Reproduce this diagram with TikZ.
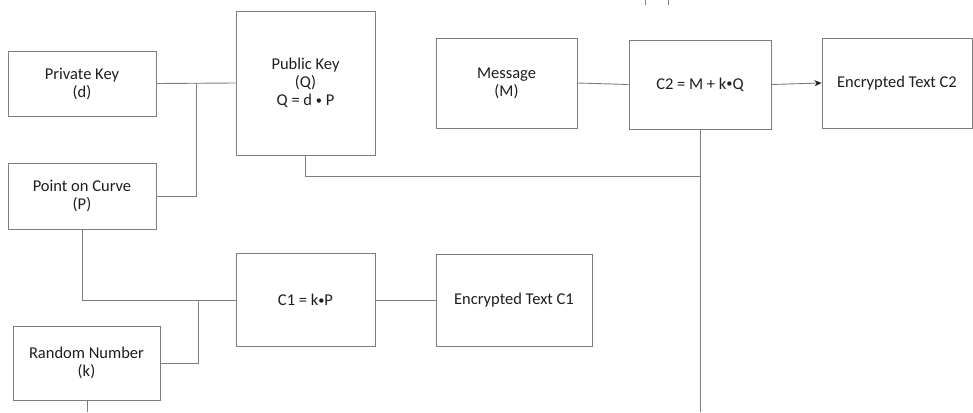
\documentclass[tikz,border=0pt]{standalone}
\usepackage{fontspec}
\setmainfont{Carlito}
\usetikzlibrary{arrows.meta}
\definecolor{edgegray}{RGB}{125,125,125}
\definecolor{txt}{RGB}{30,30,30}
\newcommand{\mdot}{{\raisebox{0.09em}{\scalebox{0.75}{•}}}}
\begin{document}
\begin{tikzpicture}[x=1pt,y=-1pt,
  box/.style={draw=edgegray,line width=0.9pt,fill=white,align=center,inner sep=0pt,
    text=txt,font=\fontsize{16.5}{18}\selectfont},
  conn/.style={draw=edgegray,line width=0.9pt},
  arr/.style={conn,-{Stealth[length=7pt,width=6pt,color=txt]}}]
\useasboundingbox (0,0) rectangle (973,412);
\node[box,minimum width=148pt,minimum height=65pt] (priv) at (82,83.5) {Private Key\\(d)};
\node[box,minimum width=148pt,minimum height=66pt] (poc) at (82,196) {Point on Curve\\(P)};
\node[box,minimum width=139pt,minimum height=144pt] (pub) at (305.5,83) {Public Key\\(Q)\\Q = d \mdot{} P};
\node[box,minimum width=141pt,minimum height=90pt] (msg) at (506.5,83) {Message\\(M)};
\node[box,minimum width=142pt,minimum height=89pt] (c2) at (700,84.5) {C2 = M + k\mdot Q};
\node[box,minimum width=150pt,minimum height=90pt] (enc2) at (897,83) {Encrypted Text C2};
\node[box,minimum width=139pt,minimum height=93pt] (c1) at (305.5,300) {C1 = k\mdot P};
\node[box,minimum width=156pt,minimum height=92pt] (enc1) at (514,300) {Encrypted Text C1};
\node[box,minimum width=147pt,minimum height=74pt] (rnd) at (86.5,363) {Random Number\\(k)};
\coordinate (j1) at (196,83);
\coordinate (j2) at (700,176);
\coordinate (j3) at (198,300);
\coordinate (bR) at (700,412);
\coordinate (bL) at (87,412);
\coordinate (t1a) at (645,0); \coordinate (t1b) at (645,5);
\coordinate (t2a) at (668,0); \coordinate (t2b) at (668,5);
\draw[conn] (priv.east) -- (pub.west);
\draw[conn] (poc.east) -| (j1);
\draw[conn] (pub.south) |- (j2);
\draw[conn] (c2.south) -- (bR);
\draw[conn] (msg.east) -- (c2.west);
\draw[arr] (c2.east) -- (enc2.west);
\draw[conn] (poc.south) |- (c1.west);
\draw[conn] (rnd.east) -| (j3);
\draw[conn] (c1.east) -- (enc1.west);
\draw[conn] (rnd.south -| bL) -- (bL);
\draw[conn] (t1a) -- (t1b);
\draw[conn] (t2a) -- (t2b);
\end{tikzpicture}
\end{document}
